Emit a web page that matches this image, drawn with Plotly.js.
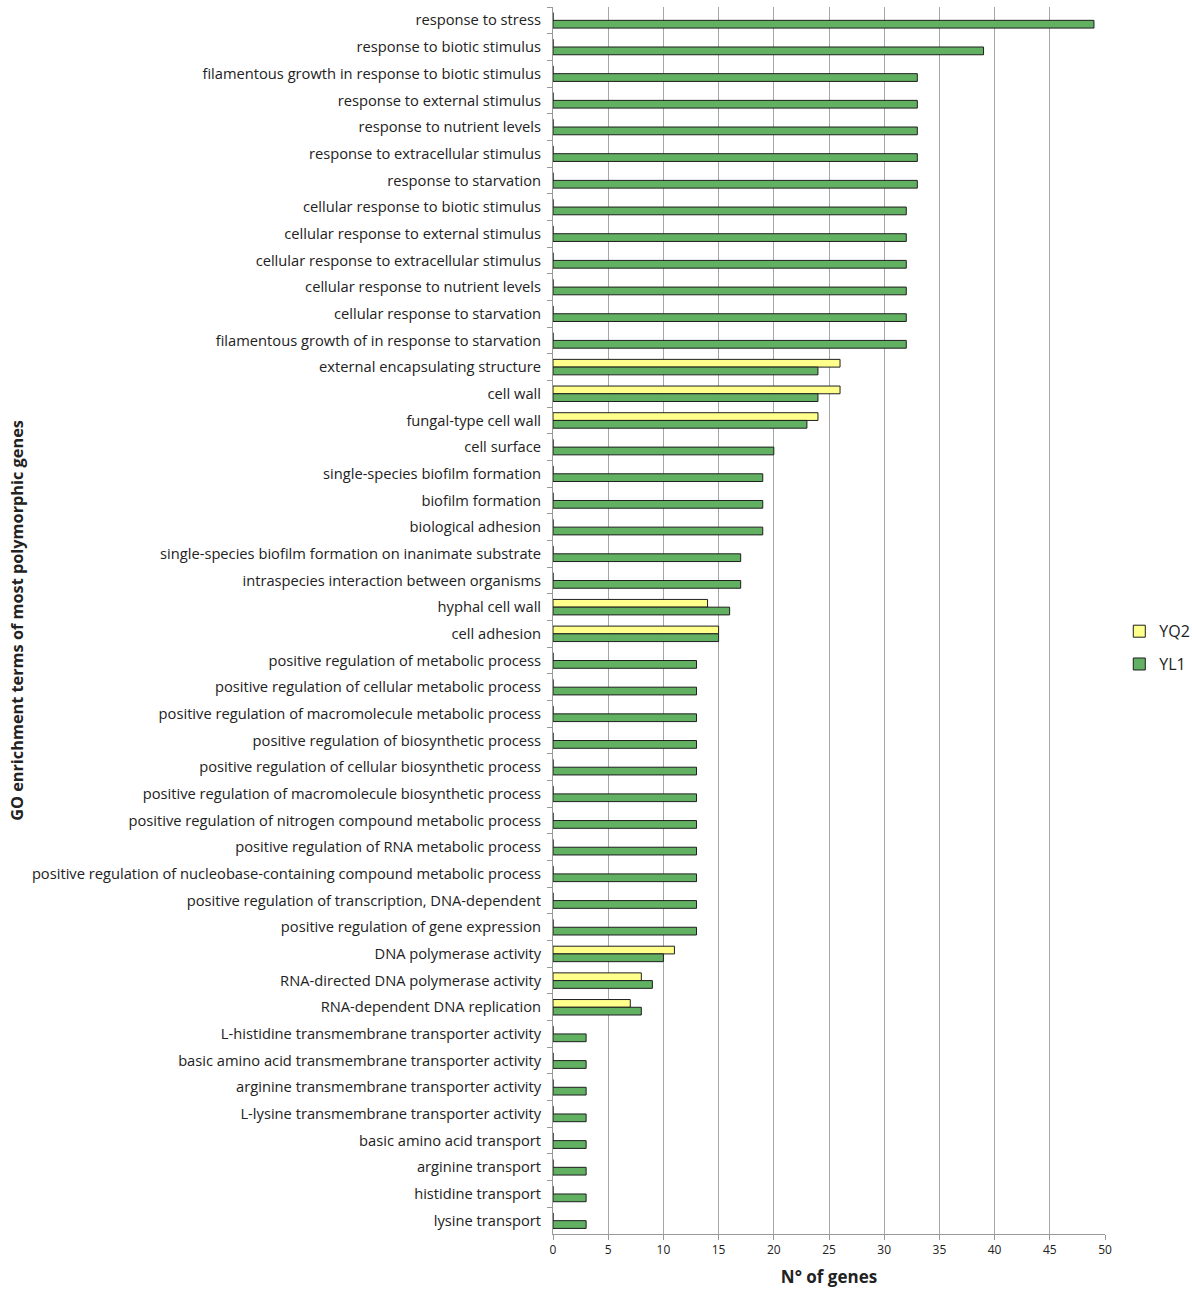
<!DOCTYPE html>
<html>
<head>
<meta charset="utf-8">
<script src="https://cdn.plot.ly/plotly-3.0.1.min.js"></script>
<style>
  body { margin: 0; background: #fff; }
  #go_plot { width: 1192px; height: 1293px; }
</style>
</head>
<body>
<div id="go_plot"></div>
<script>
// GO terms, top to bottom
var terms = [
    'response to stress',
    'response to biotic stimulus',
    'filamentous growth in response to biotic stimulus',
    'response to external stimulus',
    'response to nutrient levels',
    'response to extracellular stimulus',
    'response to starvation',
    'cellular response to biotic stimulus',
    'cellular response to external stimulus',
    'cellular response to extracellular stimulus',
    'cellular response to nutrient levels',
    'cellular response to starvation',
    'filamentous growth of in response to starvation',
    'external encapsulating structure',
    'cell wall',
    'fungal-type cell wall',
    'cell surface',
    'single-species biofilm formation',
    'biofilm formation',
    'biological adhesion',
    'single-species biofilm formation on inanimate substrate',
    'intraspecies interaction between organisms',
    'hyphal cell wall',
    'cell adhesion',
    'positive regulation of metabolic process',
    'positive regulation of cellular metabolic process',
    'positive regulation of macromolecule metabolic process',
    'positive regulation of biosynthetic process',
    'positive regulation of cellular biosynthetic process',
    'positive regulation of macromolecule biosynthetic process',
    'positive regulation of nitrogen compound metabolic process',
    'positive regulation of RNA metabolic process',
    'positive regulation of nucleobase-containing compound metabolic process',
    'positive regulation of transcription, DNA-dependent',
    'positive regulation of gene expression',
    'DNA polymerase activity',
    'RNA-directed DNA polymerase activity',
    'RNA-dependent DNA replication',
    'L-histidine transmembrane transporter activity',
    'basic amino acid transmembrane transporter activity',
    'arginine transmembrane transporter activity',
    'L-lysine transmembrane transporter activity',
    'basic amino acid transport',
    'arginine transport',
    'histidine transport',
    'lysine transport'
];

var yq2 = [
    0, 0, 0, 0, 0, 0, 0, 0, 0, 0, 0, 0, 0,
    26, 26, 24,
    0, 0, 0, 0, 0, 0,
    14, 15,
    0, 0, 0, 0, 0, 0, 0, 0, 0, 0, 0,
    11, 8, 7,
    0, 0, 0, 0, 0, 0, 0, 0
];

var yl1 = [
    49, 39, 33, 33, 33, 33, 33, 32, 32, 32, 32, 32, 32,
    24, 24, 23,
    20, 19, 19, 19, 17, 17,
    16, 15,
    13, 13, 13, 13, 13, 13, 13, 13, 13, 13, 13,
    10, 9, 8,
    3, 3, 3, 3, 3, 3, 3, 3
];

var xticks = [0, 5, 10, 15, 20, 25, 30, 35, 40, 45, 50];

function drawGoChart(){
    var data = [
        { y: terms, x: yq2, name: 'YQ2', type: 'bar', orientation: 'h', legendgroup: 'a',
          marker: { color: '#ffff8c', line: { color: '#1e1e1e', width: 1 } } },
        { y: terms, x: yl1, name: 'YL1', type: 'bar', orientation: 'h', legendgroup: 'b',
          marker: { color: '#62b062', line: { color: '#1e1e1e', width: 1 } } }
    ];

    var layout = {
        width: 1192, height: 1293,
        margin: { l: 553, r: 87, t: 7, b: 59 },
        barmode: 'group', bargap: 0.42, bargroupgap: 0,
        font: { family: 'Open Sans, sans-serif', color: '#222' },
        paper_bgcolor: '#fff', plot_bgcolor: '#fff',
        showlegend: true,
        legend: { xref: 'container', yref: 'container', x: 0.939, y: 0.499,
                  xanchor: 'left', yanchor: 'middle', traceorder: 'grouped',
                  font: { size: 16, color: '#222' }, itemwidth: 30, tracegroupgap: 9 },
        xaxis: {
            range: [0, 50], tickvals: xticks, ticks: 'outside', ticklen: 5, tickcolor: '#999',
            showgrid: true, gridcolor: '#a6a6a6', gridwidth: 1, zeroline: false,
            showline: true, linecolor: '#999', linewidth: 1,
            tickfont: { size: 12, color: '#222' },
            title: { text: '<b>N° of genes</b>', font: { size: 17, color: '#222' }, standoff: 13 }
        },
        yaxis: {
            type: 'category', autorange: 'reversed', ticks: 'outside', ticklen: 5, tickcolor: '#999',
            tickson: 'boundaries', ticklabelstandoff: 8,
            showgrid: false, showline: true, linecolor: '#999', linewidth: 1,
            tickfont: { size: 14.7, color: '#222' },
            title: { text: '<b>GO enrichment terms of most polymorphic genes</b>',
                     font: { size: 16.3, color: '#222' }, standoff: 4 }
        }
    };

    Plotly.newPlot('go_plot', data, layout, { displayModeBar: false, staticPlot: true });
}

drawGoChart();
</script>
</body>
</html>
